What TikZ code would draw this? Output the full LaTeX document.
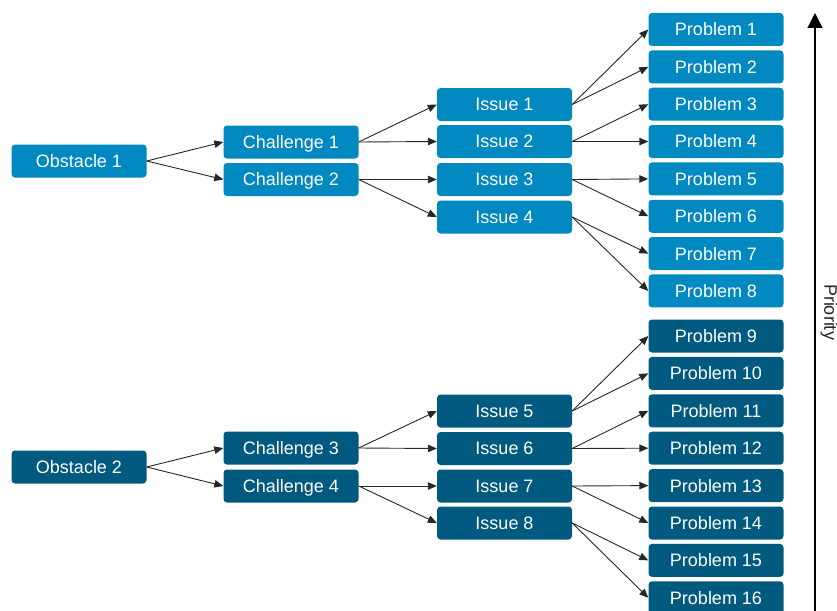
\documentclass[tikz,border=0pt]{standalone}
\usepackage{fontspec}
\setmainfont{Liberation Sans}
\usetikzlibrary{arrows.meta}

\definecolor{toptier}{HTML}{0088C0}
\definecolor{lowtier}{HTML}{005A80}
\definecolor{linkgray}{HTML}{262626}

\tikzset{
  box/.style={rounded corners=3.5pt, minimum width=135pt, minimum height=33pt,
    inner sep=0pt, text height=12.8pt, text depth=0pt,
    text=white, font=\fontsize{18}{20}\selectfont},
  upperbox/.style={box, fill=toptier},
  lowerbox/.style={box, fill=lowtier},
  link/.style={draw=linkgray, line width=0.9pt, -{Triangle[length=9pt,width=7.5pt]}},
}

\begin{document}
\begin{tikzpicture}[x=1pt,y=-1pt]
\clip (0,0) rectangle (837,610);

% upper tree
\node[upperbox] (o1) at (79,161) {Obstacle 1};
\node[upperbox] (c1) at (291,142) {Challenge 1};
\node[upperbox] (c2) at (291,179.5) {Challenge 2};
\node[upperbox] (i1) at (504.5,104.5) {Issue 1};
\node[upperbox] (i2) at (504.5,141.5) {Issue 2};
\node[upperbox] (i3) at (504.5,179.5) {Issue 3};
\node[upperbox] (i4) at (504.5,217) {Issue 4};
\foreach \k in {1,...,8}
  \node[upperbox] (p\k) at (716,{29.5+37.35*(\k-1)}) {Problem \k};

% lower tree
\node[lowerbox] (o2) at (79,467) {Obstacle 2};
\node[lowerbox] (c3) at (291,448) {Challenge 3};
\node[lowerbox] (c4) at (291,486) {Challenge 4};
\node[lowerbox] (i5) at (504.5,411) {Issue 5};
\node[lowerbox] (i6) at (504.5,448.5) {Issue 6};
\node[lowerbox] (i7) at (504.5,486) {Issue 7};
\node[lowerbox] (i8) at (504.5,523) {Issue 8};
\foreach \k in {9,...,16}
  \node[lowerbox] (p\k) at (716,{336+37.4*(\k-9)}) {Problem \k};

% connectors
\foreach \a/\b in {o1/c1,o1/c2,c1/i1,c1/i2,c2/i3,c2/i4,
                   i1/p1,i1/p2,i2/p3,i2/p4,i3/p5,i3/p6,i4/p7,i4/p8,
                   o2/c3,o2/c4,c3/i5,c3/i6,c4/i7,c4/i8,
                   i5/p9,i5/p10,i6/p11,i6/p12,i7/p13,i7/p14,i8/p15,i8/p16}
  \draw[link] (\a.east) -- (\b.west);

% priority axis
\coordinate (axisfoot) at (815,615);
\coordinate (axistip) at (815,13);
\draw[line width=1.2pt, -{Triangle[length=15pt,width=15pt]}] (axisfoot) -- (axistip);
\node[rotate=-90, font=\fontsize{18}{20}\selectfont, text=linkgray] (prio) at (829,312) {Priority};
\end{tikzpicture}
\end{document}
